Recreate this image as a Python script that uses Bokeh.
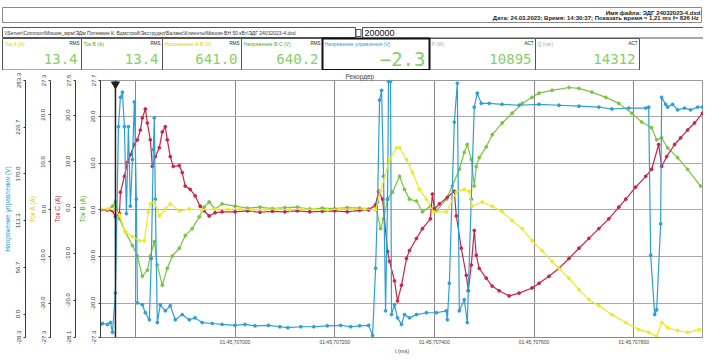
from bokeh.plotting import figure
from bokeh.models import Range1d, LinearAxis, FixedTicker, Span, Label
from bokeh.layouts import column
from bokeh.embed import file_html
from bokeh.resources import INLINE
from bokeh.core.properties import value

# ---------------- data ----------------
# time axis (microseconds of 01:45,xxxxxx)
T_START = 706730
T_END = 707940
CURSOR_T = 706760
x_ticks = [706800, 707000, 707200, 707400, 707600, 707800]
x_tick_labels = ["", "01:45,707000", "01:45,707200", "01:45,707400", "01:45,707600", "01:45,707800"]
start_label = "01:45,706730"
end_label = "01:45,707940"

# Ток A (yellow)
t_a = [706730, 706744, 706758, 706768, 706780, 706794, 706808, 706818, 706826, 706830, 706838, 706848,
       706860, 706870, 706888, 706908, 706934, 706960, 706985, 707010, 707035, 707060, 707085, 707110,
       707135, 707160, 707185, 707210, 707235, 707260, 707282, 707292, 707310, 707324, 707330, 707344,
       707356, 707370, 707384, 707398, 707424, 707444, 707460, 707470, 707476, 707496, 707516, 707536,
       707556, 707576, 707596, 707616, 707636, 707650, 707670, 707690, 707710, 707730, 707756, 707784,
       707810, 707830, 707846, 707856, 707868, 707888, 707908, 707932]
v_a = [0.2, 0.2, 0.0, -1.1, -4.7, -5.7, -6.6, -6.6, -0.4, 1.3, 1.7, -1.3,
       0.2, 1.3, -0.2, 0.2, 0.0, 0.2, 0.1, 0.2, 0.0, 0.1, 0.2, 0.0,
       0.2, 0.1, 0.0, 0.2, 0.1, 0.2, 0.0, 4.0, 10.8, 13.3, 13.3, 10.8,
       8.0, 4.4, 2.3, -0.4, -0.4, 3.8, 4.4, 4.0, 0.8, 1.7, 0.8, -0.4,
       -2.3, -4.0, -6.6, -8.7, -11.0, -12.5, -14.6, -17.1, -19.2, -20.5, -22.4, -24.1,
       -25.6, -26.2, -27.1, -24.1, -25.2, -25.8, -26.2, -25.6]

# Ток B (green)
t_b = [706730, 706744, 706754, 706760, 706768, 706780, 706794, 706804, 706814, 706824, 706830, 706838,
       706844, 706854, 706864, 706874, 706888, 706900, 706914, 706928, 706938, 706948, 706960, 706974,
       707000, 707025, 707050, 707075, 707100, 707125, 707150, 707175, 707200, 707225, 707250, 707268,
       707282, 707292, 707298, 707306, 707316, 707330, 707340, 707350, 707364, 707376, 707392, 707404,
       707424, 707436, 707450, 707460, 707466, 707474, 707480, 707484, 707490, 707504, 707516, 707536,
       707556, 707576, 707596, 707610, 707636, 707670, 707690, 707716, 707744, 707770, 707796, 707816,
       707836, 707846, 707856, 707868, 707888, 707908, 707934]
v_b = [0.2, 0.0, 0.8, 1.7, -1.9, -4.7, -7.6, -9.9, -14.2, -12.9, -9.9, -6.8,
       -11.8, -16.1, -12.5, -9.9, -8.2, -5.5, -4.0, -1.5, 0.6, 1.7, 0.2, 1.3,
       0.8, 0.4, 0.6, 0.3, 0.5, 0.6, 0.2, 0.4, 0.3, 0.5, 0.4, 0.2,
       0.8, -4.0, -1.9, 2.3, 3.8, 7.2, 4.4, 2.3, 1.9, -0.4, 0.8, -0.2,
       2.3, 5.1, 8.7, 12.3, 14.0, 10.8, 5.1, 9.3, 11.2, 13.5, 16.1, 18.6,
       20.7, 22.8, 24.1, 25.0, 25.6, 26.2, 26.0, 25.2, 24.1, 22.8, 20.7, 18.8,
       17.6, 15.0, 15.4, 13.3, 11.2, 8.7, 5.1]

# Ток C (red)
t_c = [706730, 706744, 706754, 706760, 706768, 706770, 706778, 706784, 706790, 706798, 706804, 706810,
       706814, 706820, 706824, 706830, 706834, 706840, 706848, 706854, 706860, 706864, 706870, 706876,
       706888, 706894, 706900, 706910, 706920, 706930, 706938, 706948, 706960, 706974, 707000, 707025,
       707050, 707075, 707100, 707125, 707150, 707175, 707200, 707225, 707250, 707268, 707282, 707288,
       707296, 707306, 707310, 707320, 707326, 707334, 707344, 707350, 707364, 707376, 707392, 707396,
       707400, 707410, 707426, 707440, 707444, 707454, 707464, 707468, 707474, 707480, 707484, 707490,
       707504, 707516, 707530, 707550, 707570, 707596, 707610, 707630, 707650, 707670, 707690, 707710,
       707730, 707750, 707770, 707784, 707804, 707824, 707836, 707850, 707856, 707866, 707882, 707894,
       707908, 707922, 707938]
v_c = [0.0, 0.0, -0.2, -1.5, -0.8, 3.8, 7.2, 10.2, 11.8, 14.0, 15.0, 17.1,
       19.7, 21.6, 18.6, 15.0, 9.3, 11.4, 13.3, 16.7, 17.8, 15.0, 11.4, 9.3,
       9.5, 8.0, 5.1, 4.4, 3.0, 0.8, -0.2, -1.3, -0.6, -0.4, -0.4, -0.2,
       -0.5, -0.3, -0.4, -0.2, -0.4, -0.3, -0.2, -0.4, -0.1, 0.0, 1.1, 4.0,
       2.3, -8.9, -11.0, -15.2, -19.5, -16.1, -10.4, -8.7, -6.1, -4.0, -1.9, 3.4,
       0.2, 1.3, 2.7, 4.0, -1.3, -8.2, -14.0, -17.3, -11.8, -4.4, -9.7, -12.5,
       -14.6, -16.3, -17.3, -18.4, -17.8, -16.7, -15.7, -14.2, -12.5, -10.4, -8.2, -6.1,
       -4.0, -1.9, 0.6, 2.3, 4.9, 7.2, 8.7, 14.0, 9.3, 11.4, 14.0, 15.4,
       17.1, 18.6, 20.7]

# Напряжение управления (blue)
t_u = [706730, 706734, 706744, 706750, 706754, 706760, 706766, 706770, 706774, 706778, 706782, 706786,
       706790, 706794, 706798, 706802, 706804, 706814, 706820, 706828, 706832, 706836, 706838, 706840,
       706844, 706850, 706860, 706870, 706880, 706894, 706908, 706920, 706934, 706954, 706974, 707000,
       707020, 707040, 707067, 707090, 707106, 707132, 707158, 707185, 707212, 707232, 707250, 707268,
       707276, 707282, 707286, 707290, 707294, 707298, 707302, 707306, 707308, 707312, 707314, 707320,
       707326, 707334, 707340, 707350, 707364, 707384, 707404, 707424, 707426, 707430, 707440, 707446,
       707450, 707460, 707466, 707474, 707480, 707486, 707494, 707510, 707536, 707570, 707610, 707650,
       707690, 707730, 707756, 707790, 707824, 707830, 707834, 707842, 707846, 707854, 707856, 707864,
       707868, 707878, 707888, 707902, 707914, 707928, 707938]
v_u = [-24.5, -24.3, -24.5, -24.1, -26.2, -17.8, 17.8, 24.1, 25.2, 17.8, -0.8, 17.8,
       0.8, 10.8, 23.1, 2.3, -19.9, -20.3, -22.0, -23.5, -10.4, 12.9, 19.7, 2.3,
       -24.1, -20.3, -21.6, -20.5, -23.5, -22.4, -23.5, -23.1, -24.1, -24.3, -24.5, -24.7,
       -24.5, -24.8, -24.7, -25.0, -25.2, -25.0, -25.0, -24.8, -24.7, -25.0, -24.8, -24.7,
       -26.9, -12.5, 1.7, 23.5, 25.6, 7.2, -21.6, 2.3, 27.5, 27.5, -22.4, -20.3,
       -23.1, -24.5, -22.4, -23.1, -22.4, -22.0, -22.0, -21.6, -23.5, -15.7, 18.8, 27.1,
       -21.6, -19.2, -24.1, 2.3, 22.0, 25.0, 22.8, 22.8, 22.6, 22.4, 22.6, 22.4,
       22.2, 22.0, 21.6, 21.8, 21.8, 22.0, -9.7, -22.4, -21.4, -3.0, 24.1, 22.6,
       22.0, 22.6, 21.4, 21.8, 21.4, 22.0, 22.0]

# axis scales (top, ticks, bottom) for the four stacked left axes
main_range = (-27.3, 27.7)
main_ticks = [-27.3, -20, -10, 0, 10, 20, 27.7]
axis3_range = (-28.1, 27.5)
axis3_ticks = [-28.1, -20, -10, 0, 10, 20, 27.5]
axis2_range = (-27.3, 27.3)
axis2_ticks = [-27.3, -20, -10, 0, 10, 20, 27.3]
axis1_range = (-28.3, 283.3)
axis1_ticks = [-28.3, 0, 56.7, 113.3, 170, 226.7, 283.3]

# header panels
panel_labels = ["Ток A (A)", "Ток B (A)", "Напряжение A-B (V)", "Напряжение B-C (V)",
                "Напряжение управления (V)", "P (W)", "Q (var)"]
panel_kinds = ["RMS", "RMS", "RMS", "RMS", "", "ACT", "ACT"]
panel_values = ["13.4", "13.4", "641.0", "640.2", "−2.3", "10895", "14312"]
file_name_line = "Имя файла: ЭДГ 24032023-4.dxd"
date_line = "Дата: 24.03.2023; Время: 14:30:37; Показать время = 1,21 ms  f= 826 Hz"
path_line = "\\\\Server\\Common\\Мишин_мрм\\ЭДм Потемкин К. Вдмстрой\\Экструдер\\Баланс\\Клиенты\\Мишин ВН 50 кВт\\ЭДГ 24032023-4.dxd"
counter_text = "200000"
chart_title = "Рекордер"
x_axis_label = "t (ms)"

# ---------------- styles ----------------
C_YEL = "#eeea22"
C_GRN = "#79c441"
C_RED = "#cc2347"
C_BLU = "#2c9fd9"
FONT = value("Liberation Sans")

# ---------------- header ----------------
hdr = figure(width=703, height=70, x_range=Range1d(8, 711), y_range=Range1d(70, 0),
             toolbar_location=None, output_backend="svg", min_border=0)
hdr.frame_align = False
hdr.axis.visible = False
hdr.grid.visible = False
hdr.outline_line_color = None

hdr.quad(left=[10], right=[709], top=[7], bottom=[22], fill_color="white", line_color="#8a8a8a")
hdr.text(x=[708, 708], y=[12, 17.5], text=[file_name_line, date_line], text_align="right",
         text_baseline="middle", text_font_size="6px", text_font=FONT, text_color="#222",
         text_font_style="bold")

hdr.quad(left=[10], right=[363], top=[27], bottom=[37], fill_color="white", line_color="#555")
hdr.quad(left=[363.5], right=[368.5], top=[29], bottom=[36], fill_color="white", line_color="#555")
hdr.quad(left=[370], right=[711], top=[27], bottom=[37.5], fill_color="white", line_color="#555")
hdr.text(x=[12], y=[32], text=[path_line], text_baseline="middle", text_font_size="5px",
         text_font=FONT, text_color="#333")
hdr.text(x=[372], y=[32.5], text=[counter_text], text_baseline="middle", text_font_size="9px",
         text_font=FONT, text_color="#111")

edges = [10, 89, 170, 249, 330, 437, 543, 647]
lefts = edges[:-1]
rights = edges[1:]
label_colors = ["#ddd200", "#4aae2a", "#ddd200", "#4aae2a", "#3399dd", "#aaaaaa", "#aaaaaa"]
hdr.quad(left=lefts, right=rights, top=[38] * 7, bottom=[69.5] * 7, fill_color="white",
         line_color="#555", line_width=1)
hdr.quad(left=[lefts[4]], right=[rights[4]], top=[38], bottom=[69.5], fill_color=None,
         line_color="#111", line_width=2)
hdr.text(x=[l + 2 for l in lefts], y=[43] * 7, text=panel_labels, text_color=label_colors,
         text_baseline="middle", text_font_size="5px", text_font=FONT)
hdr.text(x=[r - 2 for r in rights], y=[43] * 7, text=panel_kinds, text_color="#222",
         text_align="right", text_baseline="middle", text_font_size="4.5px", text_font=FONT)
val_sizes = ["14px", "14px", "14px", "14px", "19px", "14px", "14px"]
for i in range(7):
    hdr.text(x=[rights[i] - 4], y=[58.5], text=[panel_values[i]], text_color="#86cf6a",
             text_align="right", text_baseline="middle", text_font_size=val_sizes[i],
             text_font=value("DejaVu Sans Mono"))

# ---------------- chart ----------------
p = figure(width=703, height=286, x_range=Range1d(T_START, T_END),
           y_range=Range1d(*main_range), toolbar_location=None, output_backend="svg",
           min_border_left=0, min_border_right=0, min_border_top=10, min_border_bottom=0)
p.frame_align = False
p.title.text = chart_title
p.title.text_font_size = "6.5px"
p.title.text_font_style = "normal"
p.title.text_font = "Liberation Sans"
p.title.align = "left"
p.title.offset = 245
p.title.standoff = 1
p.outline_line_color = "#9a9a9a"
p.background_fill_color = "white"

def style_y(ax, label, color, ticks):
    ax.ticker = FixedTicker(ticks=ticks)
    ax.major_label_overrides = {t: ("%.1f" % t) for t in ticks}
    ax.axis_label = label
    ax.axis_label_text_color = color
    ax.axis_label_text_font_size = "6.5px"
    ax.axis_label_text_font_style = "normal"
    ax.axis_label_text_font = "Liberation Sans"
    ax.axis_label_standoff = 3
    ax.major_label_text_font_size = "6px"
    ax.major_label_text_font = "Liberation Sans"
    ax.major_label_text_color = "#333"
    ax.major_label_orientation = "vertical"
    ax.major_label_standoff = 3
    ax.major_tick_out = 2
    ax.major_tick_in = 0
    ax.minor_tick_out = 0
    ax.minor_tick_in = 0
    ax.axis_line_color = "#3a3a3a"
    ax.major_tick_line_color = "#3a3a3a"

main_y = p.yaxis[0]
style_y(main_y, "Ток B (A)", "#4aae2a", main_ticks)

p.extra_y_ranges = {"ax3": Range1d(*axis3_range), "ax2": Range1d(*axis2_range),
                    "ax1": Range1d(*axis1_range)}
ax3 = LinearAxis(y_range_name="ax3")
style_y(ax3, "Ток C (A)", C_RED, axis3_ticks)
p.add_layout(ax3, "left")
ax2 = LinearAxis(y_range_name="ax2")
style_y(ax2, "Ток A (A)", "#d8cf00", axis2_ticks)
p.add_layout(ax2, "left")
ax1 = LinearAxis(y_range_name="ax1")
style_y(ax1, "Напряжение управления (V)", C_BLU, axis1_ticks)
p.add_layout(ax1, "left")

xa = p.xaxis[0]
xa.ticker = FixedTicker(ticks=x_ticks)
xa.major_label_overrides = dict(zip(x_ticks, x_tick_labels))
xa.major_label_text_font_size = "5px"
xa.major_label_text_font = "Liberation Sans"
xa.major_label_text_color = "#444"
xa.major_label_standoff = 1
xa.major_tick_out = 0
xa.major_tick_in = 0
xa.minor_tick_out = 0
xa.minor_tick_in = 0
xa.axis_line_color = "#6a8fb0"
xa.axis_label = x_axis_label
xa.axis_label_text_font_size = "5.5px"
xa.axis_label_text_font_style = "normal"
xa.axis_label_text_font = "Liberation Sans"
xa.axis_label_standoff = 0

p.xgrid.grid_line_color = "#8d8493"
p.xgrid.grid_line_width = 1
p.ygrid.grid_line_color = "#a9a9a9"
p.ygrid.grid_line_width = 1

series = [(t_b, v_b, C_GRN), (t_c, v_c, C_RED), (t_u, v_u, C_BLU), (t_a, v_a, C_YEL)]
for t, v, c in series:
    assert len(t) == len(v)
    p.line(t, v, line_color=c, line_width=1.2)
    p.scatter(t, v, size=2.8, color=c)

p.add_layout(Span(location=CURSOR_T, dimension="height", line_color="#222", line_width=1.5))
p.scatter([CURSOR_T], [main_range[1] - 0.8], marker="inverted_triangle", size=8, color="#222")

for tx, txt, align in [(T_START, start_label, "left"), (T_END, end_label, "right")]:
    p.add_layout(Label(x=tx, y=main_range[0], text=txt, text_align=align, text_baseline="top",
                       y_offset=-2, text_font_size="6px", text_font="Liberation Sans",
                       text_color="#222", background_fill_color="#ececec",
                       border_line_color="#888"))

layout = column(hdr, p, spacing=0)
open("out.html", "w").write(file_html(layout, INLINE))
